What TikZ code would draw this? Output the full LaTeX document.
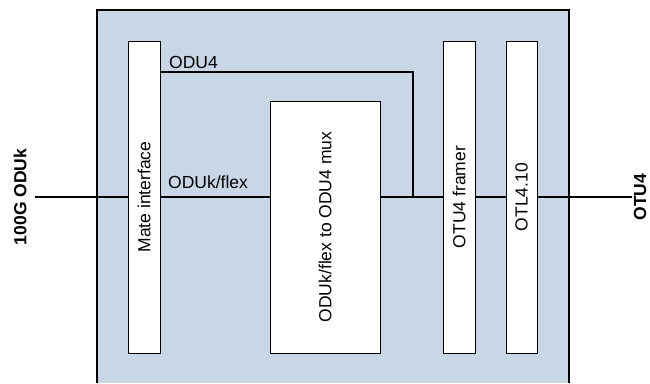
\documentclass[tikz,border=0pt]{standalone}
\usepackage{fontspec}
\setmainfont{Liberation Sans}
\definecolor{panelblue}{RGB}{201,214,229}
\tikzset{
  blockbox/.style={draw=black, line width=1pt, fill=white, inner sep=0pt,
    font=\fontsize{17.5}{21}\selectfont},
  vtext/.style={rotate=90},
  signal/.style={draw=black, line width=2pt},
  wire/.style={draw=black, line width=1.1pt},
  lbl/.style={font=\fontsize{17.5}{21}\selectfont, inner sep=0pt},
  portlbl/.style={font=\fontsize{17.5}{21}\selectfont\bfseries, inner sep=0pt, rotate=90}
}
\begin{document}
\begin{tikzpicture}[x=1pt,y=-1pt]
  \useasboundingbox (0,0) rectangle (650,383);

  % card outline (runs off the bottom edge)
  \fill[panelblue] (97,10) rectangle (569,383);
  \draw[line width=2pt] (97,383) -- (97,10) -- (569,10) -- (569,383);

  % functional blocks
  \node[blockbox, minimum width=32pt, minimum height=312pt] (mate) at (144,197) {};
  \node[vtext, lbl] (matetxt) at (mate.center) {Mate interface};
  \node[blockbox, minimum width=110pt, minimum height=252pt] (mux) at (325,227) {};
  \node[vtext, lbl] (muxtxt) at (mux.center) {ODUk/flex to ODU4 mux};
  \node[blockbox, minimum width=32pt, minimum height=312pt] (framer) at (459,197) {};
  \node[vtext, lbl] (framertxt) at (framer.center) {OTU4 framer};
  \node[blockbox, minimum width=31pt, minimum height=312pt] (otl) at (521.5,197) {};
  \node[vtext, lbl] (otltxt) at (otl.center) {OTL4.10};

  % external ports
  \coordinate (inport) at (35,197);
  \coordinate (outport) at (632,197);
  \draw[signal] (inport) -- (inport -| mate.west);
  \draw[signal] (otl.east) -- (outport);
  \node[portlbl] (inlbl) at (20,197) {100G ODUk};
  \node[portlbl] (outlbl) at (640,197) {OTU4};

  % internal connections
  \coordinate (bend) at (413,72);
  \draw[wire] (mate.east) -- (mate.east -| mux.west);
  \draw[wire] (mate.east |- bend) -- (bend) -- (bend |- framer.west);
  \draw[wire] (mux.east |- framer.west) -- (framer.west);
  \draw[wire] (framer.east) -- (otl.west);

  \node[lbl, anchor=west] (odu4lbl) at (169,62) {ODU4};
  \node[lbl, anchor=west] (odukflbl) at (168,182) {ODUk/flex};
\end{tikzpicture}
\end{document}
